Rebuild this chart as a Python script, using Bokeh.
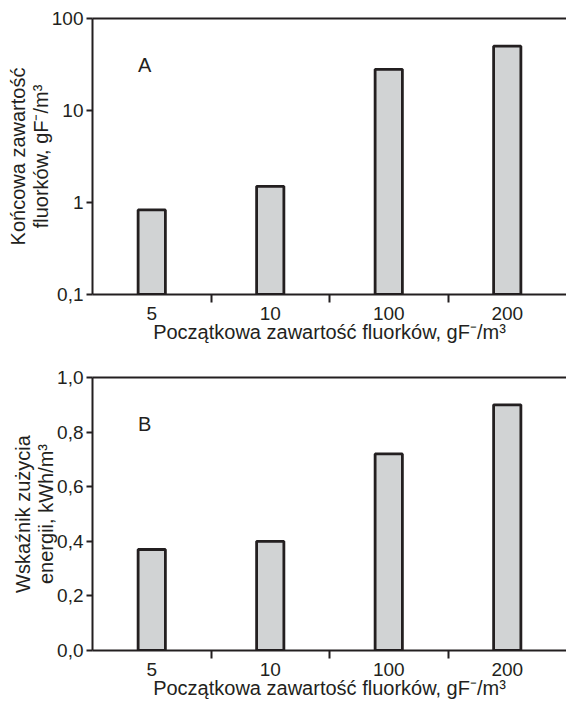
from bokeh.plotting import figure
from bokeh.models import Range1d, FixedTicker, LinearAxis, Label
from bokeh.layouts import column
from bokeh.embed import file_html
from bokeh.resources import INLINE

# ---- data ----
categories = ["5", "10", "100", "200"]
final_fluoride = [0.83, 1.5, 28.0, 50.0]        # panel A (log scale)
energy_index = [0.37, 0.40, 0.72, 0.90]          # panel B
log_ticks = [0.1, 1, 10, 100]
log_tick_labels = ["0,1", "1", "10", "100"]
lin_ticks = [0.0, 0.2, 0.4, 0.6, 0.8, 1.0]
lin_tick_labels = ["0,0", "0,2", "0,4", "0,6", "0,8", "1,0"]
x_label = "Początkowa zawartość fluorków, gF\u207b/m\u00b3"
y_label_a = "Końcowa zawartość\nfluorków, gF\u207b/m\u00b3"
y_label_b = "Wskaźnik zużycia\nenergii, kWh/m\u00b3"

INK = "#231f20"
FILL = "#d1d3d4"
FONT = "Liberation Sans"
TICK_FS = "19px"
LABEL_FS = "20px"

positions = [i + 0.5 for i in range(len(categories))]
boundaries = [i for i in range(1, len(categories))]


def panel(height, top_b, bottom_b, y_type, y_range, ticks, tick_labels,
          values, base, ylabel, letter, letter_y):
    p = figure(width=566, height=height, x_range=Range1d(0, len(categories)),
               y_range=y_range, y_axis_type=y_type, output_backend="svg",
               toolbar_location=None, min_border_left=92, min_border_right=0,
               min_border_top=top_b, min_border_bottom=bottom_b)
    p.outline_line_color = None
    p.xgrid.visible = False
    p.ygrid.visible = False

    p.vbar(x=positions, top=values, bottom=base, width=0.23,
           fill_color=FILL, line_color=INK, line_width=2.8)

    xa = p.below[0]
    ya = p.left[0]

    xa.ticker = FixedTicker(ticks=positions, minor_ticks=boundaries)
    xa.major_label_overrides = {pos: c for pos, c in zip(positions, categories)}
    xa.major_tick_out = 0
    xa.major_tick_in = 0
    xa.minor_tick_out = 8
    xa.minor_tick_in = 0
    xa.minor_tick_line_color = INK
    xa.minor_tick_line_width = 2
    xa.axis_line_color = INK
    xa.axis_line_width = 2
    xa.major_label_standoff = 4
    xa.axis_label = x_label
    xa.axis_label_standoff = -2

    ya.ticker = FixedTicker(ticks=ticks, minor_ticks=[])
    ya.major_label_overrides = {t: l for t, l in zip(ticks, tick_labels)}
    ya.major_tick_out = 6
    ya.major_tick_in = 0
    ya.minor_tick_out = 0
    ya.minor_tick_in = 0
    ya.major_tick_line_color = INK
    ya.major_tick_line_width = 2
    ya.axis_line_color = INK
    ya.axis_line_width = 2
    ya.major_label_standoff = 3
    ya.axis_label = ylabel
    ya.axis_label_standoff = -3
    ya.axis_label_text_line_height = 1.05

    for ax in (xa, ya):
        ax.major_label_text_font = FONT
        ax.major_label_text_font_size = TICK_FS
        ax.major_label_text_color = INK
        ax.axis_label_text_font = FONT
        ax.axis_label_text_font_size = LABEL_FS
        ax.axis_label_text_font_style = "normal"
        ax.axis_label_text_color = INK

    # top border line
    top = LinearAxis(ticker=FixedTicker(ticks=[]), major_tick_out=0, major_tick_in=0,
                     minor_tick_out=0, minor_tick_in=0, major_label_standoff=0,
                     axis_line_color=INK, axis_line_width=2,
                     major_label_text_font_size="0px")
    p.add_layout(top, "above")

    p.add_layout(Label(x=0.44, y=letter_y, text=letter, text_font=FONT,
                       text_font_size=LABEL_FS, text_color=INK, text_align="center",
                       text_baseline="middle"))
    return p


pa = panel(358, 18, 64, "log", Range1d(log_ticks[0], log_ticks[-1]), log_ticks,
           log_tick_labels, final_fluoride, log_ticks[0], y_label_a, "A", 31.0)
pb = panel(346, 19, 54, "linear", Range1d(lin_ticks[0], lin_ticks[-1]), lin_ticks,
           lin_tick_labels, energy_index, lin_ticks[0], y_label_b, "B", 0.83)

layout = column(pa, pb)
open("out.html", "w").write(file_html(layout, INLINE))
